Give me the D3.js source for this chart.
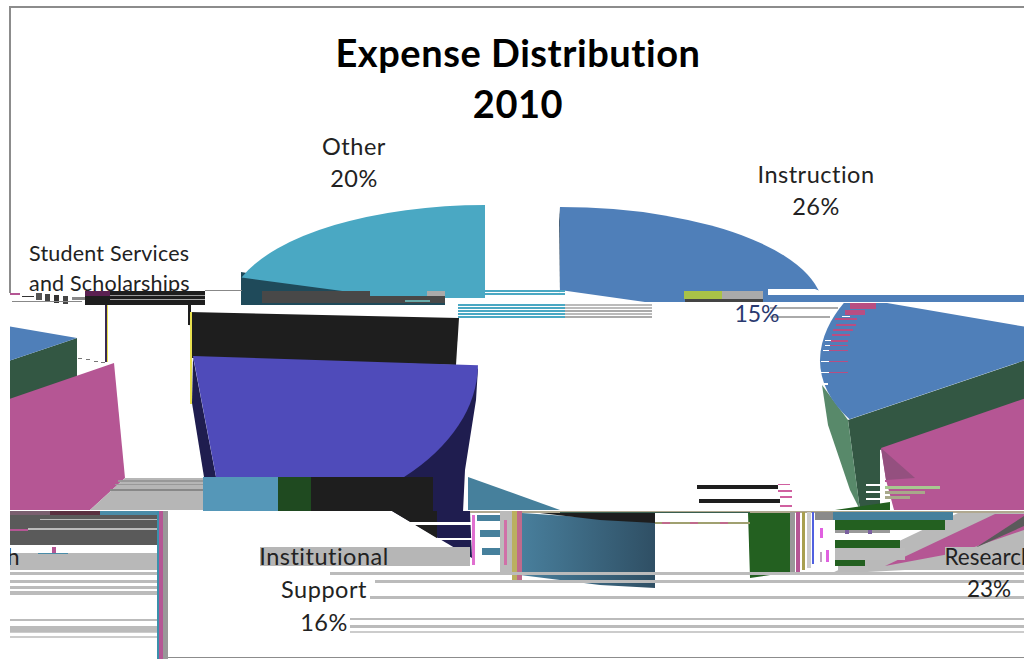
<!DOCTYPE html>
<html>
<head>
<meta charset="utf-8">
<script src="https://cdn.jsdelivr.net/npm/d3@7/dist/d3.min.js"></script>
<style>
  html, body { margin: 0; background: #fff; }
  svg { display: block; }
  text { font-family: Lato, "Open Sans", sans-serif; fill: #222; }
</style>
</head>
<body>
<svg width="1024" height="659"></svg>
<script>
'use strict';

const categories = ["Instruction", "Research", "Institutional Support", "Student Services and Scholarships", "Other"];
const shares = [26, 23, 16, 15, 20];
const titleLines = ["Expense Distribution", "2010"];

const W = 1024, H = 659, WRAP = 1014;
const svg = d3.select("svg");
const defs = svg.append("defs");

const grad = defs.append("linearGradient").attr("id", "wall").attr("x1", 0).attr("x2", 1);
grad.append("stop").attr("offset", 0).attr("stop-color", "#4a82a0");
grad.append("stop").attr("offset", 1).attr("stop-color", "#2f4f64");

function addClip(id, x, y, w, h) {
  defs.append("clipPath").attr("id", id).append("rect")
    .attr("x", x).attr("y", y).attr("width", w).attr("height", h);
}
addClip("otherTop", 0, 0, W, 298);
addClip("instrTop", 0, 0, W, 302);
addClip("middleBand", 0, 303, W * 2, 300);
addClip("purpleBand", 0, 300, W, 177);
addClip("frame", 10, 0, W, H);
addClip("studentClip", 0, 0, W, 292);

const pie = d3.pie().sort(null).value(d => d)(shares);
const arc = d3.arc().innerRadius(0).outerRadius(1);

// where each torn piece of the pie ended up
const pieces = [
  { slice: 4, cx: 485, cy: 310, sx: 256, sy: 105, fill: "#4aa8c3", clip: "otherTop" },
  { slice: 0, cx: 560, cy: 309, sx: 263, sy: 102, fill: "#4f7fb9", clip: "instrTop" },
  { slice: 1, cx: 193, cy: 356, sx: 285, sy: 172, rot: -3, skew: 1.5, fill: "#4f4bba", clip: "purpleBand" },
  { slice: 3, cx: 1091, cy: 338, sx: 271, sy: 135, rot: 9, skew: -4.7, fill: "#4f7fb9", clip: "middleBand", wrap: true }
];

// flat shards under the pie pieces: walls and displaced blocks
const shardsBack = [
  { pts: [[241, 272], [241, 305], [445, 305], [445, 291], [355, 291]], fill: "#1f4a5a" },
  { pts: [[559, 207], [565, 296], [560, 296]], fill: "#1f3f5f" },
  { pts: [[192, 403], [204, 477], [216, 477], [193, 357]], fill: "#1f1d4f" },
  { pts: [[478, 368], [476, 400], [465, 470], [463, 512], [433, 512], [395, 477]], fill: "#1f1d4f" },
  { pts: [[189, 312], [459, 318], [456, 365], [192, 358]], fill: "#1e1e1e" },
  { pts: [[848, 420], [1091, 338], [1091, 378], [880, 450], [880, 510], [860, 510]], fill: "#335743", wrap: true },
  { pts: [[822, 385], [848, 420], [860, 510], [850, 490], [828, 425]], fill: "#58896a" },
  { pts: [[881, 448], [1128, 363], [1139, 478], [1104, 510], [894, 510], [886, 480]], fill: "#b55694", wrap: true },
  { pts: [[881, 448], [915, 478], [886, 480]], fill: "#94507f" },
  { pts: [[835, 510], [890, 502], [890, 510]], fill: "#236020" },
  { pts: [[468, 477], [560, 510], [468, 510]], fill: "#46809c" },
  { pts: [[522, 513], [655, 522], [655, 588], [600, 585], [512, 574]], fill: "url(#wall)" },
  { pts: [[540, 513], [655, 513], [655, 523], [600, 520]], fill: "#1e1e1e" },
  { pts: [[748, 512], [790, 512], [790, 572], [750, 578]], fill: "#236020" },
  { pts: [[830, 574], [958, 513], [1024, 513], [1024, 570], [905, 570]], fill: "#b9b9b9" },
  { pts: [[885, 566], [995, 514], [1024, 514], [1024, 530], [960, 552]], fill: "#b55694" },
  { pts: [[975, 548], [1024, 526], [1024, 516]], fill: "#5a5a5a" },
  { pts: [[392, 511], [470, 511], [472, 558]], fill: "#1f1d4f" },
  { pts: [[392, 511], [437, 511], [437, 540], [440, 540]], fill: "#1e1e1e" },
  { pts: [[90, 510], [125, 478], [203, 478], [203, 510]], fill: "#b6b6b6" },
  { pts: [[10, 511], [157, 511], [157, 515], [10, 515]], fill: "#7a5f6f" }
];

// horizontal and vertical tear lines [x, y, w, h, colour]
const tears = [
  [85, 291, 120, 14, "#1e1e1e"], [85, 291, 25, 5, "#5a2050"], [110, 295, 95, 1, "#999"], [110, 299, 95, 1, "#aaa"],
  [10, 293, 10, 2, "#b55694"], [22, 296, 12, 1, "#333"], [36, 293, 6, 7, "#555"], [45, 294, 5, 8, "#444"],
  [54, 295, 5, 8, "#333"], [63, 296, 5, 8, "#444"], [72, 297, 13, 3, "#888"], [12, 301, 70, 1, "#888"],
  [105, 305, 2, 57, "#3a2a50"], [107, 305, 1, 57, "#e8e050"],
  [78, 358, 4, 1, "#777"], [86, 359, 4, 1, "#777"], [94, 361, 4, 1, "#777"], [101, 362, 4, 1, "#777"],
  [188, 305, 3, 20, "#1e1e1e"], [190, 312, 2, 92, "#e8e050"],
  [205, 290, 37, 1, "#888"], [262, 291, 183, 12, "#484848"], [370, 291, 57, 5, "#4aa8c3"], [427, 291, 18, 5, "#aaa"],
  [405, 300, 25, 2, "#6aa"],
  [485, 290, 80, 2, "#4aa8c3"], [485, 293, 80, 2, "#4aa8c3"],
  [458, 304, 107, 2, "#4aa8c3"], [458, 307, 107, 2, "#4aa8c3"], [458, 310, 107, 2, "#4aa8c3"],
  [458, 313, 107, 2, "#4aa8c3"], [458, 316, 107, 2, "#4aa8c3"],
  [565, 304, 87, 2, "#bbb"], [565, 307, 87, 2, "#bbb"], [565, 310, 87, 2, "#aaa"], [565, 313, 87, 2, "#bbb"], [565, 316, 87, 2, "#aaa"],
  [768, 295, 256, 7, "#4f7fb9"], [684, 291, 38, 8, "#a9c247"], [722, 291, 41, 8, "#aaa"], [685, 299, 78, 3, "#444"],
  [770, 307, 68, 2, "#aaa"], [770, 316, 60, 2, "#aaa"],
  [850, 303, 26, 6, "#b84e82"], [845, 310, 20, 5, "#b84e82"],
  [842, 316, 8, 1, "#fff"], [835, 318, 22, 2, "#b84e82"], [836, 324, 20, 2, "#b84e82"], [833, 329, 20, 2, "#b84e82"],
  [832, 334, 18, 2, "#b84e82"], [825, 340, 6, 1, "#fff"], [831, 340, 17, 2, "#b84e82"], [825, 345, 6, 1, "#fff"], [830, 345, 18, 1, "#b84e82"],
  [823, 350, 8, 1, "#fff"], [829, 350, 19, 1, "#b84e82"], [821, 361, 8, 1, "#fff"], [829, 361, 19, 1, "#b84e82"],
  [821, 372, 8, 1, "#fff"], [829, 372, 19, 1, "#b84e82"], [821, 383, 7, 2, "#fff"],
  [697, 485, 81, 4, "#1e1e1e"], [699, 499, 81, 4, "#1e1e1e"],
  [778, 484, 12, 1, "#d060a0"], [778, 490, 14, 2, "#d060a0"], [780, 496, 12, 2, "#d060a0"], [780, 505, 12, 2, "#d060a0"],
  [866, 484, 20, 2, "#fff"], [866, 491, 22, 2, "#fff"], [866, 498, 20, 2, "#fff"],
  [885, 480, 45, 2, "#b55694"], [885, 486, 55, 3, "#a8c890"], [885, 491, 40, 3, "#a8a88a"], [885, 496, 25, 3, "#a8a88a"],
  [203, 477, 75, 34, "#5597b8"], [278, 477, 33, 34, "#1f4a20"], [311, 477, 122, 34, "#1e1e1e"],
  [118, 480, 85, 2, "#999"], [115, 484, 88, 1, "#999"], [110, 489, 93, 2, "#888"],
  [10, 515, 147, 30, "#5a5a5a"], [40, 519, 117, 1, "#bbb"], [28, 528, 129, 2, "#bbb"], [10, 529, 18, 2, "#b55694"],
  [50, 511, 50, 4, "#5a3040"], [100, 511, 57, 4, "#4a8ca8"],
  [10, 553, 147, 17, "#b8b8b8"], [38, 553, 30, 1, "#4a8ca8"], [52, 547, 4, 6, "#b55694"],
  [10, 572, 147, 3, "#bbb"], [10, 580, 147, 3, "#bbb"], [10, 586, 147, 3, "#bbb"], [10, 591, 147, 4, "#bbb"],
  [10, 619, 147, 2, "#bbb"], [10, 626, 147, 6, "#bbb"], [10, 632, 147, 1, "#ccc"], [10, 636, 147, 2, "#ccc"],
  [157, 511, 2, 148, "#3a90ac"], [159, 511, 4, 148, "#b55694"], [163, 511, 5, 148, "#999"],
  [395, 522, 77, 3, "#fff"], [425, 538, 47, 2, "#fff"],
  [470, 511, 554, 2, "#b0a890"], [560, 512, 190, 1, "#3a5f50"], [655, 522, 95, 2, "#a0a070"],
  [662, 522, 8, 2, "#c06a8c"], [690, 522, 8, 2, "#c06a8c"], [720, 522, 8, 2, "#c06a8c"],
  [472, 515, 3, 50, "#e070d0"], [477, 515, 25, 6, "#46809c"], [480, 530, 24, 7, "#46809c"], [482, 548, 25, 7, "#46809c"],
  [500, 511, 12, 64, "#bbb"], [504, 520, 3, 45, "#d070a8"],
  [512, 511, 5, 70, "#bab060"], [517, 511, 5, 70, "#c06a8c"],
  [790, 512, 5, 62, "#999"], [796, 512, 4, 60, "#b55694"], [802, 512, 3, 58, "#a8a050"], [807, 512, 4, 56, "#ccc"], [812, 512, 2, 52, "#5060e0"],
  [815, 512, 18, 8, "#8a8a8a"], [820, 528, 3, 10, "#e060e0"], [826, 550, 3, 12, "#e060e0"], [820, 552, 2, 10, "#c0a0c0"],
  [833, 512, 120, 8, "#46809c"], [835, 520, 110, 10, "#236020"],
  [835, 530, 55, 3, "#999"], [845, 530, 4, 4, "#7a5f9f"], [868, 530, 4, 4, "#7a5f9f"],
  [835, 540, 65, 8, "#236020"], [835, 560, 30, 6, "#236020"],
  [835, 548, 70, 12, "#bbb"], [838, 566, 30, 4, "#bbb"],
  [260, 547, 210, 19, "#b6b6b6"], [945, 547, 79, 23, "#b9b9b9"],
  [375, 580, 649, 3, "#bbb"], [330, 572, 694, 3, "#bbb"],
  [370, 596, 654, 3, "#bbb"], [350, 618, 674, 2, "#bbb"], [350, 625, 674, 3, "#bbb"], [350, 631, 674, 2, "#ccc"]
];

// frame of the chart area
const frame = [[9, 6, 1015, 2], [9, 6, 2, 287], [168, 657, 856, 1]];
svg.selectAll("rect.frame").data(frame).enter().append("rect").attr("class", "frame")
  .attr("x", d => d[0]).attr("y", d => d[1]).attr("width", d => d[2]).attr("height", d => d[3])
  .attr("fill", "#8c8c8c");

const scene = svg.append("g").attr("clip-path", "url(#frame)");

function drawShard(d) {
  const offsets = d.wrap ? [0, -WRAP] : [0];
  offsets.forEach(off => {
    scene.append("path")
      .attr("transform", `translate(${off},0)`)
      .attr("d", d3.line()(d.pts) + "Z")
      .attr("fill", d.fill);
  });
}

function drawPiece(d) {
  const s = pie[d.slice];
  const rot = (d.rot || 0) * Math.PI / 180;
  const path = arc({ startAngle: s.startAngle + rot, endAngle: s.endAngle + rot });
  const offsets = d.wrap ? [0, -WRAP] : [0];
  offsets.forEach(off => {
    scene.append("g").attr("clip-path", `url(#${d.clip})`)
      .append("path")
      .attr("transform", `translate(${d.cx + off},${d.cy}) skewY(${d.skew || 0}) scale(${d.sx},${d.sy})`)
      .attr("d", path)
      .attr("fill", d.fill);
  });
}

shardsBack.forEach(drawShard);
pieces.forEach(drawPiece);

// white cut under the Instruction slice
drawShard({ pts: [[560, 290], [652, 303], [560, 303]], fill: "#fff" });
drawShard({ pts: [[768, 289], [815, 289], [830, 295], [768, 295]], fill: "#fff" });

scene.selectAll("rect.tear").data(tears).enter().append("rect").attr("class", "tear")
  .attr("x", d => d[0]).attr("y", d => d[1]).attr("width", d => d[2]).attr("height", d => d[3])
  .attr("fill", d => d[4]);

// Title and labels
svg.selectAll("text.title").data(titleLines).enter().append("text").attr("class", "title")
  .attr("x", 518).attr("y", (d, i) => 67 + i * 51)
  .attr("text-anchor", "middle")
  .style("font-size", "38px").style("font-weight", 700).style("fill", "#000")
  .style("letter-spacing", "0.55px")
  .text(d => d);

const pct = categories.map((c, i) => shares[i] + "%");
const labels = [
  { x: 816, y: 183, lines: [categories[0], pct[0]] },
  { x: 354, y: 155, lines: [categories[4], pct[4]] },
  { x: 324, y: 565, lines: ["Institutional", "Support", pct[2]], dy: 33 },
  { x: 989, y: 565, lines: [categories[1], pct[1]], wrap: true, spacing: 0, size: 22.5 }
];

labels.forEach(l => {
  l.lines.forEach((t, i) => {
    const offs = l.wrap && i === 0 ? [0, -WRAP] : [0];
    offs.forEach(off => {
      scene.append("text")
        .attr("x", l.x + off).attr("y", l.y + i * (l.dy || 32))
        .attr("text-anchor", "middle")
        .style("font-size", (l.size || 23.5) + "px")
        .style("letter-spacing", (l.spacing === undefined ? 0.5 : l.spacing) + "px")
        .text(t);
    });
  });
});

const student = svg.append("g").attr("clip-path", "url(#studentClip)");
["Student Services", "and Scholarships"].forEach((t, i) => {
  student.append("text").attr("x", 29).attr("y", 261 + i * 30)
    .style("font-size", "21.5px").style("letter-spacing", "0.2px").text(t);
});

svg.append("text").attr("x", 757).attr("y", 322).attr("text-anchor", "middle")
  .style("font-size", "23px").style("fill", "#2a3a70").text(pct[3]);
</script>
</body>
</html>
